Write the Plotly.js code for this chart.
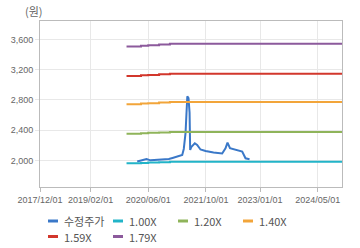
<!DOCTYPE html>
<html>
<head>
<meta charset="utf-8">
<script src="https://cdn.plot.ly/plotly-3.0.1.min.js"></script>
<style>html,body{margin:0;padding:0;background:#fff;}#chart{width:360px;height:248px;}</style>
</head>
<body>
<div id="chart"></div>
<script>
// Adjusted price (수정주가)
const priceDates = ['2020-02-29','2020-04-11','2020-05-18','2020-06-20','2020-09-13','2020-11-22','2020-12-23','2021-02-01','2021-03-15','2021-03-28','2021-04-12','2021-04-20','2021-04-27','2021-05-07','2021-05-16','2021-05-21','2021-06-01','2021-06-29','2021-07-19','2021-08-16','2021-09-28','2021-12-04','2022-02-15','2022-03-15','2022-04-01','2022-04-22','2022-07-03','2022-08-03','2022-08-31','2022-10-04'];
const priceValues = [1984,2004,2017,2000,2004,2017,2031,2048,2071,2151,2364,2630,2848,2826,2630,2137,2181,2227,2204,2144,2124,2104,2091,2160,2235,2160,2137,2117,2027,2015];

// PBR band lines
const bandDates = ['2019-12-01','2020-04-01','2020-06-01','2020-09-01','2020-12-01','2024-11-22'];
const band100 = [1960,1966,1970,1975,1980,1980];
const band120 = [2352,2359,2364,2370,2376,2376];
const band140 = [2744,2752,2758,2765,2772,2772];
const band159 = [3116,3126,3132,3140,3148,3148];
const band179 = [3508,3519,3526,3535,3544,3544];

const seriesNames = ['수정주가','1.00X','1.20X','1.40X','1.59X','1.79X'];
const seriesColors = ['#3a78c8','#22b4c8','#8fb45a','#f2a53a','#d2372c','#8c5a9c'];

const xTickVals = ['2017-12-01','2019-02-01','2020-06-01','2021-10-01','2023-01-01','2024-05-01'];
const xTickText = ['2017/12/01','2019/02/01','2020/06/01','2021/10/01','2023/01/01','2024/05/01'];
const yTickVals = [2000,2400,2800,3200,3600];

const bands = [band100, band120, band140, band159, band179];

const traces = [{
  x: priceDates, y: priceValues, name: seriesNames[0], type: 'scatter', mode: 'lines',
  line: {color: seriesColors[0], width: 2}
}];
bands.forEach((b, i) => {
  traces.push({
    x: bandDates, y: b, name: seriesNames[i+1], type: 'scatter', mode: 'lines',
    line: {color: seriesColors[i+1], width: 2, shape: 'hv'}
  });
});

// plot area geometry (px) used only to place the legend block below the plot
const W = 360, H = 248, ML = 40, MR = 18, MT = 21, MB = 61;
const PW = W - ML - MR, PH = H - MT - MB;
const px = v => (v - ML) / PW;
const py = v => (H - MB - v) / PH;

const legendCols = 4, legendX0 = 48, legendPitch = 65, legendY0 = 221, legendRowH = 15.5;
const shapes = [], annotations = [];
const fontFam = '"Noto Sans CJK KR", "Noto Sans", sans-serif';
const tickFam = '"Liberation Sans", Arial, sans-serif';

seriesNames.forEach((name, i) => {
  const col = i % legendCols, row = Math.floor(i / legendCols);
  const sx = legendX0 + col * legendPitch, sy = legendY0 + row * legendRowH;
  shapes.push({type: 'line', xref: 'paper', yref: 'paper', x0: px(sx), x1: px(sx + 10), y0: py(sy), y1: py(sy),
    line: {color: seriesColors[i], width: 3}});
  annotations.push({text: name, xref: 'paper', yref: 'paper', x: px(sx + 13.5), y: py(sy), xanchor: 'left', yanchor: 'middle',
    showarrow: false, font: {family: fontFam, size: 11, color: '#555'}});
});
annotations.push({
  text: '(원)', xref: 'paper', yref: 'paper', x: px(33.5), y: py(10.5), xanchor: 'center', yanchor: 'middle',
  showarrow: false, font: {family: fontFam, size: 11, color: '#666'}
});

const layout = {
  width: W, height: H,
  margin: {l: ML, r: MR, t: MT, b: MB, autoexpand: false},
  paper_bgcolor: '#fff', plot_bgcolor: '#fff',
  font: {family: tickFam, size: 9, color: '#666'},
  showlegend: false,
  xaxis: {
    type: 'date', range: ['2017-12-01','2024-11-22'],
    tickvals: xTickVals, ticktext: xTickText, tickangle: 0,
    showgrid: true, gridcolor: '#e8e8e8', gridwidth: 1,
    showline: true, linecolor: '#bbb', linewidth: 1, mirror: true,
    ticks: 'outside', ticklen: 4, tickcolor: '#bbb',
    tickfont: {family: tickFam, size: 9, color: '#666'}, zeroline: false, fixedrange: true, automargin: false
  },
  yaxis: {
    range: [1647, 3846],
    tickvals: yTickVals, tickformat: ',d',
    showgrid: true, gridcolor: '#e8e8e8', gridwidth: 1,
    showline: true, linecolor: '#bbb', linewidth: 1, mirror: true,
    ticks: 'outside', ticklen: 4, tickcolor: '#e8e8e8',
    tickfont: {family: tickFam, size: 9, color: '#666'}, zeroline: false, fixedrange: true, automargin: false
  },
  shapes: shapes,
  annotations: annotations
};

Plotly.newPlot('chart', traces, layout, {displayModeBar: false, staticPlot: true});
</script>
</body>
</html>
